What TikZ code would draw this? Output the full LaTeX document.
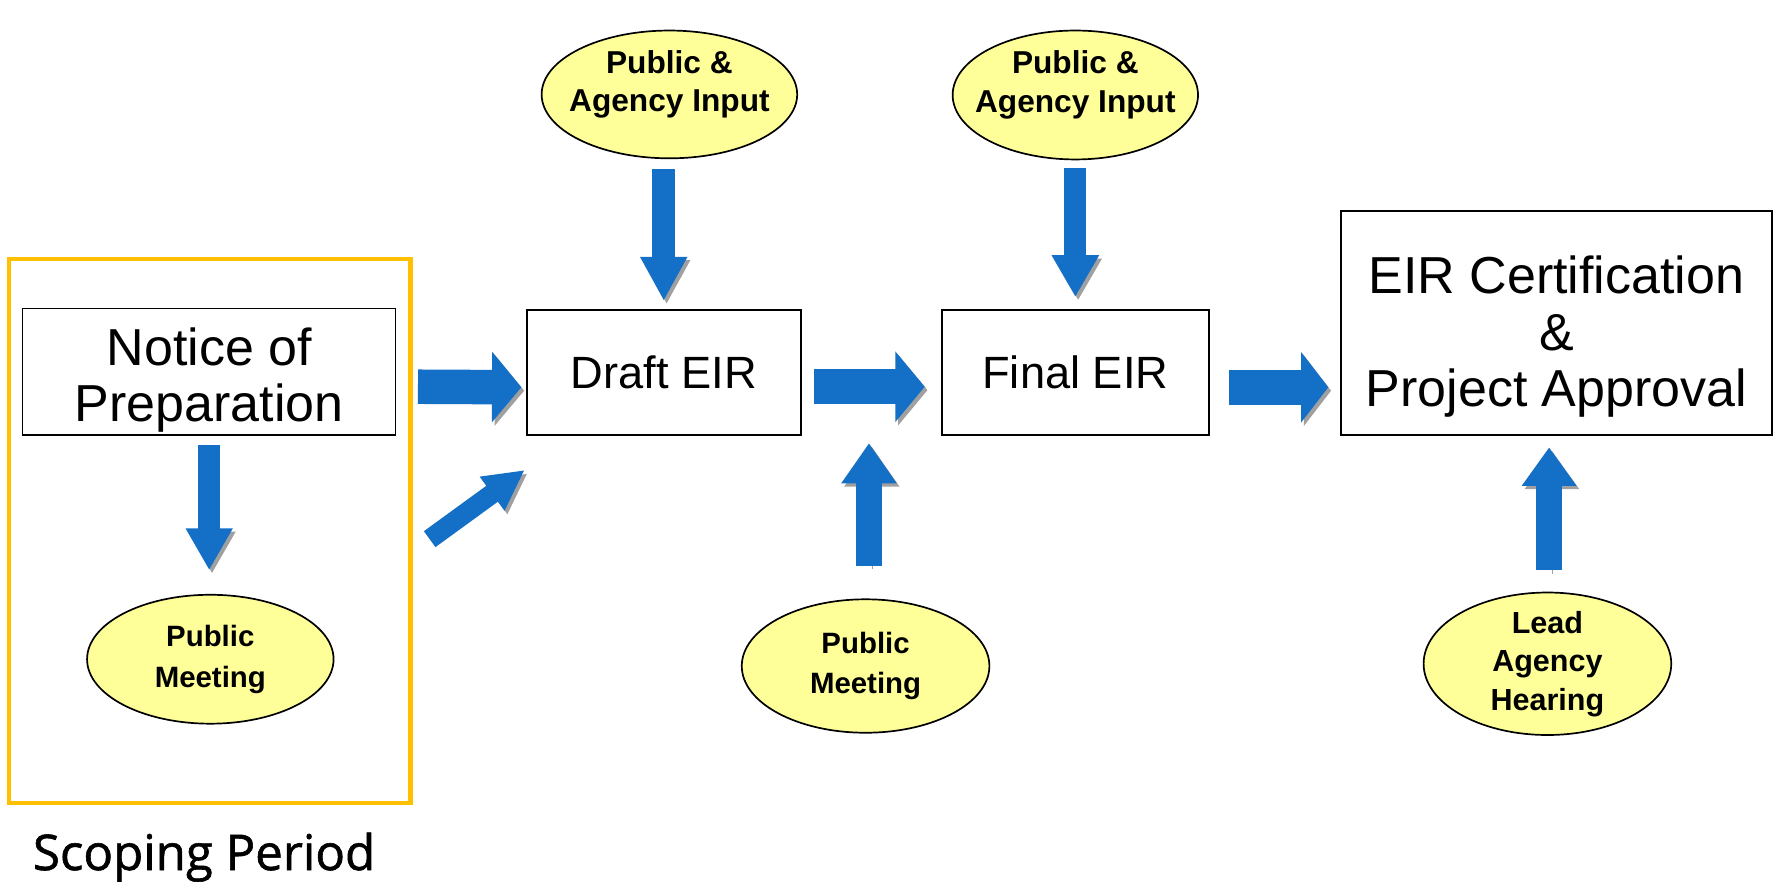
\documentclass[tikz,border=0pt]{standalone}
\usepackage{fontspec}
\setmainfont{Liberation Sans}
\newfontfamily\scopefont[BoldFont={Open Sans}, BoldFeatures={FakeBold=1.2}]{Open Sans}
\usetikzlibrary{shapes.geometric, arrows.meta}
\definecolor{arrowblue}{RGB}{20,111,198}
\definecolor{ovalyellow}{RGB}{255,255,153}
\definecolor{frameorange}{RGB}{255,192,0}
\definecolor{shadowgray}{RGB}{160,160,160}
\tikzset{
    stepbox/.style={draw, line width=1.8pt, fill=white, align=center, inner sep=0pt},
    steptext/.style={align=center, inner sep=0pt, font=\fontsize{46}{50}\selectfont},
    inputoval/.style={ellipse, draw, line width=1.5pt, fill=ovalyellow, align=center,
        inner sep=-30pt, font=\bfseries\fontsize{28}{34}\selectfont},
    blockarrow/.style n args={3}{draw=arrowblue, line width=#1,
        -{Triangle[width=#2, length=#3]},
        preaction={draw=shadowgray, transform canvas={shift={(2.5pt,-3pt)}}}},
}
\begin{document}
\begin{tikzpicture}[x=1pt, y=-1pt]
    \useasboundingbox (0,0) rectangle (1568,780);
    \fill[white] (0,0) rectangle (1568,780);

    \draw[frameorange, line width=4pt] (8,229) rectangle (363,710);
    \node[anchor=base, font=\scopefont\bfseries\fontsize{43.5}{50}\selectfont] (scope) at (180.5,769.4) {Scoping Period};

    \node[stepbox, line width=1.3pt, minimum width=330, minimum height=112] (notice) at (185,328.9) {};
    \node[steptext] (noticetext) at ([yshift=-7pt]notice.center) {Notice of\\Preparation};
    \node[stepbox, minimum width=242, minimum height=111,
        font=\fontsize{40}{48}\selectfont] (draft) at (587,329.5) {Draft EIR};
    \node[stepbox, minimum width=236, minimum height=111,
        font=\fontsize{40}{48}\selectfont] (final) at (951,329.5) {Final EIR};
    \node[stepbox, minimum width=381, minimum height=198] (cert) at (1376.5,285.7) {};
    \node[steptext] (certtext) at ([yshift=-12pt]cert.center) {EIR Certification\\\&\\Project Approval};

    \node[inputoval, minimum width=226, minimum height=113, text depth=24pt] (in1) at (592,83.5) {Public \&\\Agency Input};
    \node[inputoval, minimum width=217, minimum height=114, text depth=24pt] (in2) at (951,84) {Public \&\\Agency Input};
    \node[inputoval, minimum width=218, minimum height=114,
        font=\bfseries\fontsize{26}{36}\selectfont] (pm1) at (186,583) {Public\\Meeting};
    \node[inputoval, minimum width=219, minimum height=118,
        font=\bfseries\fontsize{26}{36}\selectfont] (pm2) at (765.5,589) {Public\\Meeting};
    \node[inputoval, minimum width=219, minimum height=126,
        font=\bfseries\fontsize{27}{34}\selectfont] (lead) at (1368.5,587) {Lead\\Agency\\Hearing};

    \draw[blockarrow={30.5pt}{61pt}{26pt}, shorten <=19pt, shorten >=4pt]
        ([yshift=-13pt]notice.east) -- ([yshift=-13pt]draft.west);
    \draw[blockarrow={30.5pt}{61pt}{26pt}, shorten <=10.6pt, shorten >=14.3pt]
        ([yshift=-12.5pt]draft.east) -- ([yshift=-12.5pt]final.west);
    \draw[blockarrow={30.5pt}{61pt}{24pt}, shorten <=17pt, shorten >=10.4pt]
        ([yshift=-13pt]final.east) -- ([yshift=-13pt]final.east -| cert.west);

    \draw[blockarrow={20pt}{39pt}{39pt}, shorten <=9pt, shorten >=7pt]
        (in1.south -| draft) -- (draft.north);
    \draw[blockarrow={19.6pt}{39.3pt}{37pt}, shorten <=7pt, shorten >=10.4pt]
        (in2.south -| final) -- (final.north);
    \draw[blockarrow={20pt}{39pt}{37pt}, shorten <=8pt, shorten >=21pt]
        (notice.south) -- (notice.south |- pm1.north);
    \draw[blockarrow={23pt}{46.5pt}{35.5pt}, shorten <=29pt, shorten >=6pt]
        ([xshift=3pt]pm2.north) -- ([xshift=3pt]pm2.north |- draft.south);
    \draw[blockarrow={23.5pt}{46pt}{34pt}, shorten <=19pt, shorten >=10pt]
        ([xshift=1.5pt]lead.north) -- ([xshift=1.5pt]lead.north |- cert.south);

    \coordinate (scopeout) at (380,476.8);
    \coordinate (scopein) at (464,415.7);
    \draw[blockarrow={17.4pt}{34.6pt}{35.6pt}] (scopeout) -- (scopein);
\end{tikzpicture}
\end{document}
